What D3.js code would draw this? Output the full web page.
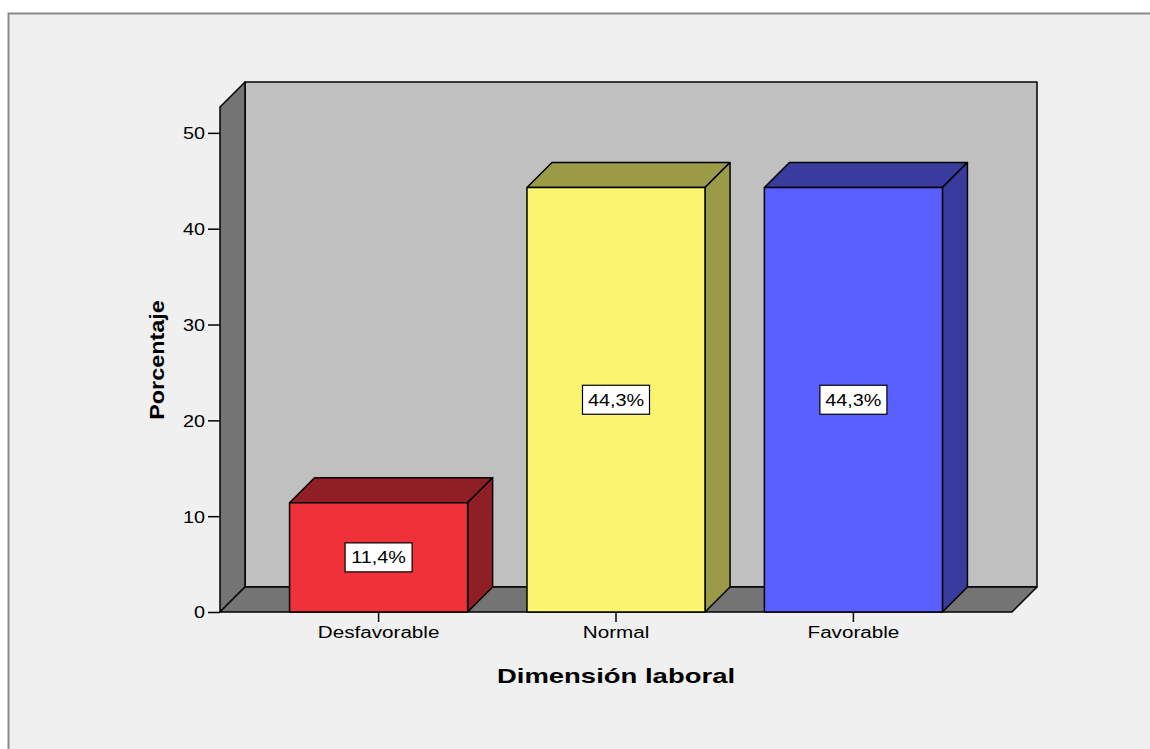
<!DOCTYPE html>
<html>
<head>
<meta charset="utf-8">
<script src="https://cdn.jsdelivr.net/npm/d3@7"></script>
<style>
  html, body { margin: 0; background: #ffffff; overflow: hidden; }
  text { font-family: "Liberation Sans", Arial, sans-serif; fill: #000; }
</style>
</head>
<body>
<div id="chart"></div>
<script>
// data
let categories = ["Desfavorable", "Normal", "Favorable"];
let percentages = [11.4, 44.3, 44.3];
let frontColors = ["#f03139", "#faf571", "#5a5fff"];
let sideColors = ["#8f1f24", "#9b9a46", "#393c9c"];
let yTicks = [0, 10, 20, 30, 40, 50];
let xTitle = "Dimensión laboral";
let yTitle = "Porcentaje";

let width = 1150, height = 749;
let depth = 25;          // 3d offset of the box

let svg = d3.select('#chart')
    .append('svg')
    .attr('width', width)
    .attr('height', height)
    .style('display', 'block')

// outer frame: only top and left edges fall inside the picture
svg.append('rect')
    .attr('x', 8).attr('y', 13)
    .attr('width', width).attr('height', height)
    .attr('fill', '#f0f0f0')
svg.append('path')
    .attr('d', 'M8.5,' + height + 'V13.5H' + width)
    .attr('fill', 'none')
    .attr('stroke', '#8a8a8a')
    .attr('stroke-width', 2)

let plot = {left: 220, right: 1012, top: 107, bottom: 612}

let x = d3.scaleBand()
    .domain(categories)
    .range([plot.left, plot.right])
    .paddingInner(0.25)
    .paddingOuter(0.293)

let y = d3.scaleLinear()
    .domain([0, 52.7])
    .range([plot.bottom, plot.top])

// the original font is wide: stretch each text along its run
function stretchText(sel, k) {
    sel.each(function() {
        let len = this.getComputedTextLength();
        d3.select(this).attr('textLength', len * k).attr('lengthAdjust', 'spacingAndGlyphs');
    })
}

let g = svg.append('g')
    .attr('stroke', '#000')
    .attr('stroke-width', 1.5)
    .attr('stroke-linejoin', 'round')

// back wall
g.append('rect')
    .attr('x', plot.left + depth).attr('y', plot.top - depth)
    .attr('width', plot.right - plot.left).attr('height', plot.bottom - plot.top)
    .attr('fill', '#c0c0c0')

// left wall
g.append('polygon')
    .attr('points', [[plot.left, plot.top], [plot.left + depth, plot.top - depth],
        [plot.left + depth, plot.bottom - depth], [plot.left, plot.bottom]].join(' '))
    .attr('fill', '#747474')

// floor
g.append('polygon')
    .attr('points', [[plot.left, plot.bottom], [plot.left + depth, plot.bottom - depth],
        [plot.right + depth, plot.bottom - depth], [plot.right, plot.bottom]].join(' '))
    .attr('fill', '#747474')

// bars
categories.forEach(function(c, i) {
    let x0 = x(c), x1 = x(c) + x.bandwidth();
    let yv = y(percentages[i]), y0 = y(0);
    let bar = g.append('g');
    bar.append('polygon')
        .attr('points', [[x0, yv], [x0 + depth, yv - depth], [x1 + depth, yv - depth], [x1, yv]].join(' '))
        .attr('fill', sideColors[i])
    bar.append('polygon')
        .attr('points', [[x1, yv], [x1 + depth, yv - depth], [x1 + depth, y0 - depth], [x1, y0]].join(' '))
        .attr('fill', sideColors[i])
    bar.append('rect')
        .attr('x', x0).attr('y', yv)
        .attr('width', x1 - x0).attr('height', y0 - yv)
        .attr('fill', frontColors[i])
})

// value labels
let fmt = function(v) { return d3.format('.1f')(v).replace('.', ',') + '%'; }
categories.forEach(function(c, i) {
    let cx = x(c) + x.bandwidth() / 2;
    let cy = (y(percentages[i]) + y(0)) / 2;
    let lab = svg.append('g').attr('transform', 'translate(' + cx + ',' + cy + ')');
    lab.append('rect')
        .attr('x', -33.5).attr('y', -14.5)
        .attr('width', 67).attr('height', 29)
        .attr('fill', '#fff')
        .attr('stroke', '#000')
        .attr('stroke-width', 1.2)
    lab.append('text')
        .attr('text-anchor', 'middle')
        .attr('y', 6)
        .style('font-size', '16.5px')
        .text(fmt(percentages[i]))
        .call(stretchText, 1.2)
})

// y axis
let yAxis = svg.append('g')
    .attr('transform', 'translate(' + plot.left + ',0)')
    .call(d3.axisLeft(y).tickValues(yTicks).tickSize(12).tickPadding(3))
yAxis.select('.domain').remove()
yAxis.selectAll('line').attr('stroke', '#000').attr('stroke-width', 1.5)
yAxis.selectAll('text')
    .attr('fill', '#000')
    .attr('dy', '0.36em')
    .style('font-size', '16.5px')
    .style('font-family', '"Liberation Sans", Arial, sans-serif')
    .call(stretchText, 1.2)

// x axis
let xAxis = svg.append('g')
    .attr('transform', 'translate(0,' + plot.bottom + ')')
    .call(d3.axisBottom(x).tickSize(10).tickPadding(5))
xAxis.select('.domain').remove()
xAxis.selectAll('line').attr('stroke', '#000').attr('stroke-width', 1.5)
xAxis.selectAll('text')
    .attr('fill', '#000')
    .style('font-size', '16px')
    .style('font-family', '"Liberation Sans", Arial, sans-serif')
    .call(stretchText, 1.29)

// axis titles
svg.append('text')
    .attr('x', (plot.left + plot.right) / 2)
    .attr('y', 683)
    .attr('text-anchor', 'middle')
    .style('font-size', '20.5px')
    .style('font-weight', 'bold')
    .text(xTitle)
    .call(stretchText, 1.34)

svg.append('text')
    .attr('transform', 'translate(164,360) rotate(-90)')
    .attr('text-anchor', 'middle')
    .style('font-size', '19.5px')
    .style('font-weight', 'bold')
    .text(yTitle)
    .call(stretchText, 1.2)
</script>
</body>
</html>
